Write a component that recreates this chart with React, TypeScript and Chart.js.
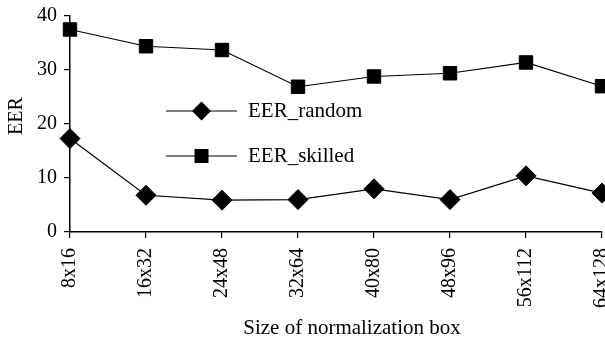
import React, { useEffect, useRef } from "react";
import { Chart, registerables } from "chart.js";

Chart.register(...registerables);

const FONT = '"Liberation Serif", "Times New Roman", serif';

const categories = ["8x16", "16x32", "24x48", "32x64", "40x80", "48x96", "56x112", "64x128"];
const eerRandom = [17.3, 6.8, 5.9, 6.0, 8.0, 6.0, 10.4, 7.2];
const eerSkilled = [37.5, 34.4, 33.7, 26.9, 28.8, 29.4, 31.4, 27.0];
const seriesLabels = ["EER_random", "EER_skilled"];
const yTicks = [0, 10, 20, 30, 40];
const xTitle = "Size of normalization box";
const yTitle = "EER";

const overlay = {
  id: "overlay",
  afterDraw(chart: any) {
    const { ctx, chartArea: a } = chart;
    ctx.save();
    ctx.fillStyle = "#000";
    ctx.strokeStyle = "#000";
    ctx.font = `21px ${FONT}`;
    ctx.textAlign = "center";
    ctx.textBaseline = "middle";
    ctx.fillText(xTitle, (a.left + a.right) / 2 + 16, a.bottom + 96);
    ctx.save();
    ctx.font = `20px ${FONT}`;
    ctx.translate(17, (a.top + a.bottom) / 2 - 8);
    ctx.rotate(-Math.PI / 2);
    ctx.fillText(yTitle, 0, 0);
    ctx.restore();

    chart.data.datasets.forEach((ds: any, i: number) => {
      const y = a.top + 95 + i * 45;
      const x0 = a.left + 96;
      const x1 = a.left + 167;
      const xm = (x0 + x1) / 2;
      ctx.lineWidth = 1.2;
      ctx.beginPath();
      ctx.moveTo(x0, y);
      ctx.lineTo(x1, y);
      ctx.stroke();
      ctx.beginPath();
      if (ds.pointStyle === "rectRot") {
        const r = 9.5;
        ctx.moveTo(xm - r, y);
        ctx.lineTo(xm, y - r);
        ctx.lineTo(xm + r, y);
        ctx.lineTo(xm, y + r);
        ctx.closePath();
      } else {
        const s = 7;
        ctx.rect(xm - s, y - s, 2 * s, 2 * s);
      }
      ctx.fill();
      ctx.textAlign = "left";
      ctx.fillText(ds.label, a.left + 178, y);
    });
    ctx.restore();
  },
};

export default function App() {
  const ref = useRef<HTMLCanvasElement | null>(null);
  useEffect(() => {
    if (!ref.current) return;
    const chart = new Chart(ref.current, {
      type: "line",
      data: {
        labels: categories,
        datasets: [
          {
            label: seriesLabels[0],
            data: eerRandom,
            borderColor: "#000",
            backgroundColor: "#000",
            borderWidth: 1.2,
            pointStyle: "rectRot",
            pointRadius: 10,
            pointBorderWidth: 1,
            tension: 0,
          },
          {
            label: seriesLabels[1],
            data: eerSkilled,
            borderColor: "#000",
            backgroundColor: "#000",
            borderWidth: 1.2,
            pointStyle: "rect",
            pointRadius: 9.5,
            pointBorderWidth: 1,
            tension: 0,
          },
        ],
      },
      options: {
        animation: false,
        responsive: false,
        devicePixelRatio: 1,
        layout: { padding: { top: 16, right: 2, left: 0, bottom: 0 } },
        plugins: { legend: { display: false }, tooltip: { enabled: false } },
        scales: {
          x: {
            type: "category",
            offset: false,
            grid: { drawOnChartArea: false, drawTicks: true, tickLength: 6, color: "#000", lineWidth: 1.2 },
            border: { display: true, color: "#000", width: 1.5 },
            ticks: {
              minRotation: 90,
              maxRotation: 90,
              autoSkip: false,
              padding: 10,
              color: "#000",
              font: { family: FONT, size: 20 },
            },
            afterFit: (s: any) => {
              s.height = 111;
              s.paddingLeft = 0;
              s.paddingRight = 0;
            },
          },
          y: {
            min: yTicks[0],
            max: yTicks[yTicks.length - 1],
            afterBuildTicks: (s: any) => {
              s.ticks = yTicks.map((v) => ({ value: v }));
            },
            grid: { drawOnChartArea: false, drawTicks: true, tickLength: 6, color: "#000", lineWidth: 1.2 },
            border: { display: true, color: "#000", width: 1.5 },
            ticks: {
              padding: 7,
              color: "#000",
              font: { family: FONT, size: 20 },
            },
            afterFit: (s: any) => {
              s.width = 70;
              s.paddingTop = 0;
              s.paddingBottom = 0;
            },
          },
        },
      },
      plugins: [overlay],
    });
    return () => chart.destroy();
  }, []);
  return (
    <div style={{ position: "absolute", left: 0, top: 0, width: 605, height: 343, overflow: "hidden", background: "#fff" }}>
      <canvas ref={ref} width={613} height={343} style={{ display: "block" }} />
    </div>
  );
}
